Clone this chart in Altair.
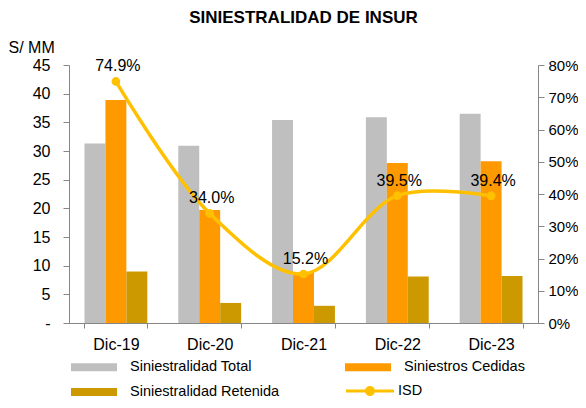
import altair as alt
import pandas as pd

categories = ["Dic-19", "Dic-20", "Dic-21", "Dic-22", "Dic-23"]
siniestralidad_total = [31.3, 30.9, 35.4, 35.9, 36.5]
siniestros_cedidas = [38.9, 19.7, 8.9, 27.9, 28.2]
siniestralidad_retenida = [9.0, 3.5, 3.0, 8.1, 8.2]
isd = [74.9, 34.0, 15.2, 39.5, 39.4]

bar_series = ["Siniestralidad Total", "Siniestros Cedidas", "Siniestralidad Retenida"]
bar_colors = ["#BFBFBF", "#FF9900", "#CC9900"]
line_series = ["ISD"]
line_color = "#FFC000"

rows = []
for name, vals in zip(bar_series, [siniestralidad_total, siniestros_cedidas, siniestralidad_retenida]):
    for c, v in zip(categories, vals):
        rows.append({"cat": c, "serie": name, "valor": v})
bars_df = pd.DataFrame(rows)
isd_df = pd.DataFrame({"cat": categories, "isd": isd, "serie2": line_series[0]})

FONT = "Liberation Sans"
AXIS_GREY = "#868686"

# legend symbols: nominal size 16px (unit = 8px), drawn wider to the right
rect_path = "M-1,-0.5H4.75V0.5H-1Z"
line_dot_path = (
    "M-1,-0.19H1.4V0.19H-1Z "
    "M2.6,-0.19H5V0.19H2.6Z "
    "M1.375,0A0.625,0.625,0,1,1,2.625,0A0.625,0.625,0,1,1,1.375,0Z"
)

x_enc = alt.X(
    "cat:N",
    sort=categories,
    title=None,
    scale=alt.Scale(paddingInner=0.33, paddingOuter=0.165),
    axis=alt.Axis(
        labelAngle=0, labelFontSize=16, labelFont=FONT, labelColor="#000000",
        domainColor=AXIS_GREY, tickColor=AXIS_GREY, tickSize=5, tickBand="extent",
        labelPadding=8, grid=False,
    ),
)

bars = alt.Chart(bars_df).mark_bar().encode(
    x=x_enc,
    xOffset=alt.XOffset("serie:N", sort=bar_series,
                        scale=alt.Scale(domain=bar_series, paddingInner=0, paddingOuter=0)),
    y=alt.Y(
        "valor:Q", stack=None,
        scale=alt.Scale(domain=[0, 45], nice=False),
        axis=alt.Axis(
            values=list(range(0, 50, 5)), labelFontSize=16, labelFont=FONT, labelColor="#000000",
            labelExpr="datum.value == 0 ? '-' : datum.label",
            domainColor=AXIS_GREY, tickColor=AXIS_GREY, tickSize=6, labelPadding=13, grid=False,
            title="S/ MM", titleAngle=0, titleFont=FONT, titleFontSize=16, titleFontWeight="normal",
            titleColor="#000000", titleAlign="left", titleBaseline="alphabetic", titleX=-61, titleY=-13,
        ),
    ),
    color=alt.Color(
        "serie:N",
        scale=alt.Scale(domain=bar_series, range=bar_colors),
        legend=alt.Legend(
            title=None, orient="none", legendX=2, legendY=294, columns=2, direction="horizontal",
            columnPadding=65, rowPadding=10, labelFont=FONT, labelFontSize=14.5,
            labelColor="#000000", symbolType=rect_path, symbolSize=256,
            symbolStrokeWidth=0, labelOffset=43, labelLimit=300,
        ),
    ),
)

y_right = alt.Y(
    "isd:Q",
    scale=alt.Scale(domain=[0, 80], nice=False),
    axis=alt.Axis(
        orient="right", values=list(range(0, 90, 10)), labelExpr="datum.value + '%'",
        labelFontSize=15, labelFont=FONT, labelColor="#000000",
        domainColor=AXIS_GREY, tickColor=AXIS_GREY, tickSize=6, labelPadding=4,
        grid=False, title=None,
    ),
)

base_line = alt.Chart(isd_df).encode(x=alt.X("cat:N", sort=categories), y=y_right)
line = base_line.mark_line(color=line_color, strokeWidth=3.5, interpolate="catmull-rom")
points = base_line.mark_point(filled=True, size=75, opacity=1).encode(
    color=alt.Color(
        "serie2:N",
        scale=alt.Scale(domain=line_series, range=[line_color]),
        legend=alt.Legend(
            title=None, orient="none", legendX=277, legendY=318,
            labelFont=FONT, labelFontSize=14.5, labelColor="#000000",
            symbolType=line_dot_path, symbolSize=256, symbolStrokeWidth=0,
            labelOffset=36, labelLimit=300,
        ),
    ),
)
labels = base_line.transform_calculate(
    lbl="format(datum.isd, '.1f') + '%'"
).mark_text(
    font=FONT, fontSize=16, color="#000000", baseline="bottom", dy=-7, dx=2
).encode(text="lbl:N")

isd_layer = alt.layer(line, points, labels)

chart = alt.layer(bars, isd_layer).resolve_scale(y="independent", color="independent").properties(
    width=469,
    height=258,
    padding={"left": 61, "top": 57, "right": 40, "bottom": 77},
    autosize=alt.AutoSizeParams(type="none"),
    title=alt.TitleParams(
        "SINIESTRALIDAD DE INSUR", font=FONT, fontSize=17, fontWeight="bold",
        color="#000000", anchor="middle", frame="group", offset=12,
    ),
).configure_view(stroke=None)

chart.save("out.html", embed_options={"renderer": "svg", "actions": False})
